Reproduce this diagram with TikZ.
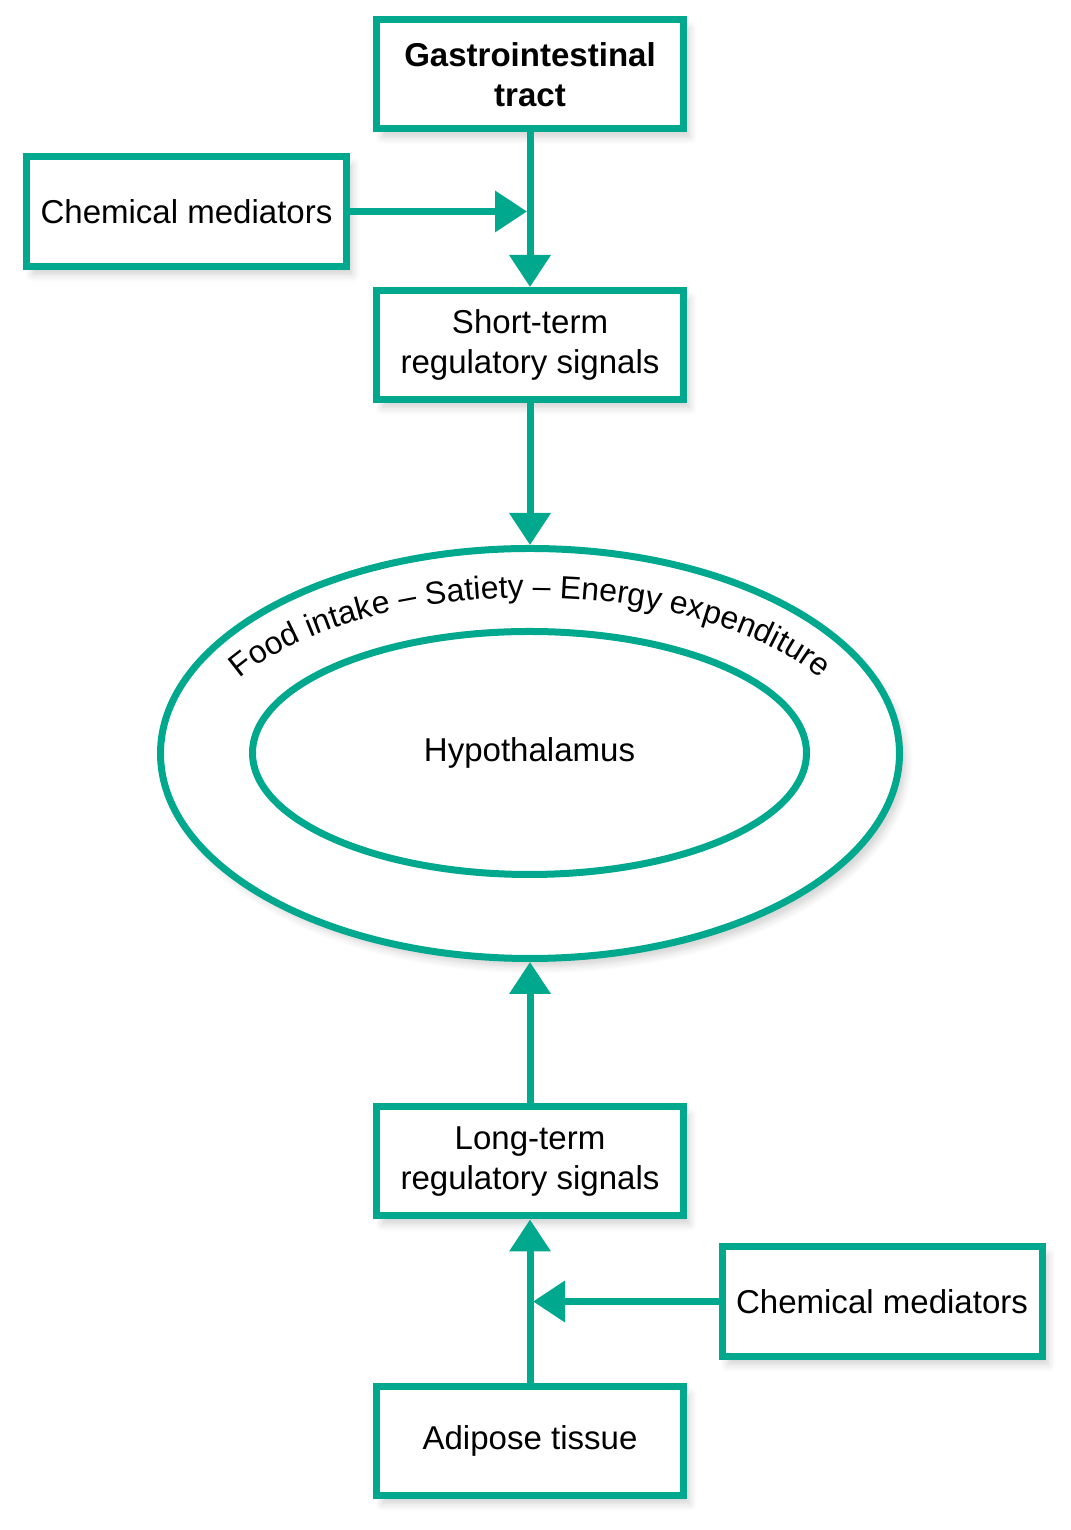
\documentclass[tikz,border=0pt]{standalone}
\usepackage{fontspec}
\setmainfont{Liberation Sans}
\usepackage{xcolor}
\usepackage{tikz}
\usetikzlibrary{shapes.geometric, arrows.meta, positioning, decorations.text, shadows.blur}
\definecolor{sigteal}{RGB}{0,168,142}
\tikzset{
  softshadow/.style={blur shadow={shadow xshift=0.6mm, shadow yshift=-0.8mm, shadow opacity=18, shadow blur steps=6}},
  signalbox/.style={rectangle, draw=sigteal, line width=0.7mm, fill=white, minimum width=3.07cm, minimum height=1.09cm, align=center, text centered, softshadow}, % main column boxes
  mediator/.style={signalbox, minimum width=3.2cm, minimum height=1.1cm}, % chemical mediators
  ring/.style={ellipse, draw=sigteal, line width=0.7mm, fill=white, inner sep=0pt},
  flow/.style={draw=sigteal, line width=0.7mm, -{Triangle[length=3.2mm, width=4mm]}, sigteal}
}

\begin{document}
\begin{tikzpicture}[font=\fontsize{9.4}{11.4}\selectfont]
    \useasboundingbox (0,0) rectangle (10.70,15.30);

    % Nodes
    \node [signalbox] (gitract) at (5.30,14.555) {\textbf{Gastrointestinal}\\\textbf{tract}};
    \node [mediator] (chemtop) at (1.865,13.185) {Chemical mediators};
    \node [signalbox] (shortterm) at (5.30,11.85) {Short-term\\regulatory signals};

    \node [ring, softshadow, minimum width=7.39cm, minimum height=4.10cm] (outer) at (5.30,7.765) {};
    \node [ring, minimum width=5.54cm, minimum height=2.43cm] (hypo) at (5.295,7.77) {Hypothalamus};

    \node [signalbox] (longterm) at (5.30,3.685) {Long-term\\regulatory signals};
    \node [mediator] (chembot) at (8.82,2.285) {Chemical mediators};
    \node [signalbox] (adipose) at (5.30,0.89) {Adipose tissue};

    % text round the outer ring
    \path [decorate, decoration={text along path, text align=center,
        text={|\fontsize{9.1}{11}\selectfont|Food intake – Satiety – Energy expenditure}}]
      (outer.center) ++(180:3.30 and 1.56) arc [start angle=180, end angle=0, x radius=3.30, y radius=1.56];

    % Edges
    \draw [flow] (gitract) -- (shortterm);
    \draw [flow, shorten >=0.3mm] (chemtop.east) -- (chemtop.east -| gitract.south);
    \draw [flow] (shortterm) -- (outer);

    \draw [flow] (longterm) -- (outer);
    \draw [flow] (adipose) -- (longterm);
    \draw [flow, shorten >=0.3mm] (chembot.west) -- (chembot.west -| adipose.north);

\end{tikzpicture}
\end{document}
